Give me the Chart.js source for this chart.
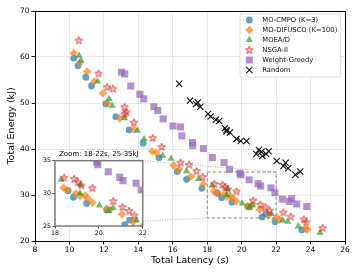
<!DOCTYPE html>
<html><head><meta charset="utf-8">
<script src="https://cdn.jsdelivr.net/npm/chart.js@4.4.1/dist/chart.umd.min.js"></script>
<style>
html,body{margin:0;padding:0;background:#fff;}
#wrap{position:relative;width:357px;height:275px;}
#main{position:absolute;left:0;top:0;}
#inset{position:absolute;left:40px;top:148px;}
</style></head><body>
<div id="wrap"><canvas id="main" width="357" height="275"></canvas><canvas id="inset" width="110" height="92"></canvas></div>
<script>
const FONT = 'DejaVu Sans';
const seriesNames = ['MO-CMPO (K=3)','MO-DIFUSCO (K=100)','MOEA/D','NSGA-II','Weight-Greedy','Random'];

const cmpoLatency = [10.25,10.5,10.95,11.28,12.11,12.69,13.47,14.28,15.2,16.26,16.8,17.69,18.6,18.84,19.44,20.36,21.18,21.4,21.94,23.49];
const cmpoEnergy  = [59.75,58.1,55.6,53.7,49.8,47.05,44.15,41.25,38.1,35.1,33.4,31.45,30.4,29.4,28.45,27.45,25.2,25.9,24.2,22.4];

const difuscoLatency = [10.25,10.6,11.02,11.43,11.94,12.19,12.92,13.74,14.8,15.05,16.05,16.37,17.05,17.77,18.38,18.55,18.96,19.15,19.37,19.5,19.7,20.36,20.51,21.05,21.57,22.03,22.2,23.7,23.81];
const difuscoEnergy  = [60.85,58.7,56.85,54.7,52.1,49.97,46.7,44.3,39.5,39.2,36.4,35.6,34.0,32.4,30.85,30.5,30.0,29.6,29.7,29.2,28.55,27.6,27.5,26.8,25.65,25.1,24.6,22.7,22.5];

const moeadLatency = [10.56,10.67,11.63,12.3,12.48,13.2,13.95,14.33,15.41,15.9,16.8,17.5,18.28,19.17,19.14,20.03,20.45,20.65,21.72,22.38,22.67,23.29,24.55];
const moeadEnergy  = [60.3,59.2,54.7,50.9,49.4,46.7,44.0,42.2,38.55,37.9,35.2,33.5,32.1,31.3,30.0,28.15,27.3,27.8,25.9,24.5,24.2,23.2,21.8];

const nsgaLatency = [10.54,11.69,12.19,12.53,13.2,13.31,13.2,13.74,14.83,15.35,16.45,16.95,17.38,17.73,18.42,18.88,19.04,19.2,19.7,20.66,21.08,21.38,21.62,22.42,22.85,23.6,23.75,24.7];
const nsgaEnergy  = [63.6,56.4,53.45,53.1,49.1,48.0,47.6,45.75,42.4,40.45,37.05,36.6,35.2,33.9,32.4,32.2,31.7,31.2,30.8,28.8,27.9,27.3,26.6,26.2,25.3,24.7,24.1,22.8];

const greedyLatency = [13.02,13.21,13.56,14.09,14.32,14.9,15.13,15.44,16.02,16.45,16.53,17.14,17.16,17.78,18.3,18.98,19.3,19.9,19.95,20.43,20.95,21.1,21.7,21.93,22.36,22.77,22.9,23.2,23.78];
const greedyEnergy  = [56.7,56.3,53.7,51.9,50.9,49.2,48.35,46.55,45.0,44.8,42.85,41.4,40.75,40.1,38.15,37.05,35.6,34.75,34.4,33.3,32.45,31.95,31.55,30.5,29.1,28.6,29.2,28.05,27.5];

const randomLatency = [16.37,17.0,17.35,17.45,17.6,18.05,18.2,18.5,18.7,19.03,19.12,19.12,19.32,19.7,19.95,20.28,20.85,21.0,21.15,21.2,21.42,21.57,22.04,22.42,22.55,22.7,23.12,23.4];
const randomEnergy  = [54.2,50.5,49.8,50.1,49.2,47.6,47.05,46.35,46.1,44.5,44.15,43.8,43.6,42.2,41.75,41.75,38.9,39.8,39.4,38.5,38.9,39.5,37.4,36.3,37.0,35.8,34.4,35.1];

const xRange = [8, 26];
const yRange = [20, 70];
const zoomX = [18, 22];
const zoomY = [25, 35];
const insetTitle = 'Zoom: 18-22s, 25-35kJ';

Chart.defaults.font.family = FONT;
Chart.defaults.color = '#000';

function makeStar(){
  const c = document.createElement('canvas');
  c.width = 10; c.height = 10;
  const g = c.getContext('2d');
  const cx = 5, cy = 5.2, R = 4.0, r = R * 0.42;
  g.beginPath();
  for (let i = 0; i < 10; i++) {
    const a = -Math.PI/2 + i*Math.PI/5;
    const rr = i % 2 ? r : R;
    g.lineTo(cx + rr*Math.cos(a), cy + rr*Math.sin(a));
  }
  g.closePath();
  g.fillStyle = 'rgba(214,39,40,0.3)';
  g.fill();
  g.lineWidth = 0.85;
  g.strokeStyle = 'rgba(214,39,40,0.85)';
  g.stroke();
  return c;
}
const starImg = makeStar();

const toPts = (xs, ys) => xs.map((x, i) => ({x: x, y: ys[i]}));

function makeDatasets(){
  return [
    {label: seriesNames[0], data: toPts(cmpoLatency, cmpoEnergy), pointStyle: 'circle', pointRadius: 3.4,
     backgroundColor: 'rgba(31,119,180,0.7)', borderColor: 'rgba(31,119,180,0.7)', borderWidth: 0, order: 6},
    {label: seriesNames[1], data: toPts(difuscoLatency, difuscoEnergy), pointStyle: 'rectRot', pointRadius: 4.2,
     backgroundColor: 'rgba(255,127,14,0.7)', borderColor: 'rgba(255,127,14,0.7)', borderWidth: 0, order: 5},
    {label: seriesNames[2], data: toPts(moeadLatency, moeadEnergy), pointStyle: 'triangle', pointRadius: 4.2,
     backgroundColor: 'rgba(44,160,44,0.7)', borderColor: 'rgba(44,160,44,0.7)', borderWidth: 0, order: 4},
    {label: seriesNames[3], data: toPts(nsgaLatency, nsgaEnergy), pointStyle: starImg, pointRadius: 4.0,
     backgroundColor: 'rgba(214,39,40,0.3)', borderColor: 'rgba(214,39,40,0.85)', borderWidth: 0, order: 3},
    {label: seriesNames[4], data: toPts(greedyLatency, greedyEnergy), pointStyle: 'rect', pointRadius: 5.0,
     backgroundColor: 'rgba(148,103,189,0.72)', borderColor: 'rgba(148,103,189,0.72)', borderWidth: 0, order: 2},
    {label: seriesNames[5], data: toPts(randomLatency, randomEnergy), pointStyle: 'crossRot', pointRadius: 4.4,
     backgroundColor: 'rgba(0,0,0,0)', borderColor: '#111', borderWidth: 1.1, order: 1}
  ];
}

// ---------- inset ----------
const insetCanvas = document.getElementById('inset');
const insetPlugin = {
  id: 'insetDecor',
  beforeDraw(chart){
    const {ctx, chartArea: a} = chart;
    ctx.save();
    ctx.fillStyle = '#fff';
    ctx.fillRect(a.left, a.top, a.right - a.left, a.bottom - a.top);
    ctx.restore();
  },
  afterDraw(chart){
    const {ctx, chartArea: a} = chart;
    ctx.save();
    ctx.strokeStyle = '#7a7a7a';
    ctx.lineWidth = 1.5;
    ctx.strokeRect(a.left, a.top, a.right - a.left, a.bottom - a.top);
    ctx.fillStyle = '#000';
    ctx.font = '7px "' + FONT + '"';
    ctx.textAlign = 'center';
    ctx.textBaseline = 'middle';
    ctx.fillText(insetTitle, (a.left + a.right)/2, a.top - 6.5);
    ctx.restore();
  }
};
const insetChart = new Chart(insetCanvas, {
  type: 'scatter',
  data: {datasets: makeDatasets()},
  options: {
    responsive: false, animation: false, devicePixelRatio: 1, events: [],
    layout: {padding: {top: 12.7, right: 7.3, left: 0, bottom: 0}},
    plugins: {legend: {display: false}, tooltip: {enabled: false}},
    scales: {
      x: {type: 'linear', min: zoomX[0], max: zoomX[1],
          ticks: {stepSize: 2, font: {size: 6.3}, color: '#000', padding: 1, maxRotation: 0},
          grid: {drawOnChartArea: false, tickLength: 2.5, tickColor: '#000', tickWidth: 0.8},
          border: {display: false},
          afterFit(s){ s.height = 14; }},
      y: {type: 'linear', min: zoomY[0], max: zoomY[1],
          ticks: {stepSize: 5, font: {size: 6.3}, color: '#000', padding: 1.5},
          grid: {drawOnChartArea: false, tickLength: 2.5, tickColor: '#000', tickWidth: 0.8},
          border: {display: false},
          afterFit(s){ s.width = 15; }}
    }
  },
  plugins: [insetPlugin]
});

// ---------- main ----------
const mainPlugin = {
  id: 'mainDecor',
  afterDatasetsDraw(chart){
    const {ctx, scales: {x: xs, y: ys}, chartArea: a} = chart;
    const rx1 = xs.getPixelForValue(zoomX[0]), rx2 = xs.getPixelForValue(zoomX[1]);
    const ry1 = ys.getPixelForValue(zoomY[1]), ry2 = ys.getPixelForValue(zoomY[0]);
    ctx.save();
    ctx.strokeStyle = '#8a8a8a';
    ctx.lineWidth = 1;
    ctx.setLineDash([3.5, 2]);
    ctx.strokeRect(rx1, ry1, rx2 - rx1, ry2 - ry1);
    const ia = insetChart.chartArea;
    const ox = insetCanvas.offsetLeft, oy = insetCanvas.offsetTop;
    ctx.strokeStyle = '#9a9a9a';
    ctx.lineWidth = 0.8;
    ctx.setLineDash([1, 1.5]);
    ctx.beginPath();
    ctx.moveTo(ox + ia.right, oy + ia.top); ctx.lineTo(rx2, ry1);
    ctx.moveTo(ox + ia.left, oy + ia.bottom); ctx.lineTo(rx1, ry2);
    ctx.stroke();
    ctx.setLineDash([]);
    const bw = 100.7, bh = 63;
    const bx = a.right - 4.3 - bw, by = a.top + 3;
    ctx.fillStyle = 'rgba(255,255,255,0.85)';
    ctx.strokeStyle = '#d5d5d5';
    ctx.lineWidth = 0.8;
    ctx.beginPath();
    if (ctx.roundRect) ctx.roundRect(bx, by, bw, bh, 2); else ctx.rect(bx, by, bw, bh);
    ctx.fill(); ctx.stroke();
    chart.data.datasets.forEach((ds, i) => {
      const mx = bx + 9.3, my = by + 6 + i * 10;
      ctx.fillStyle = ds.backgroundColor;
      ctx.strokeStyle = ds.borderColor;
      ctx.lineWidth = ds.borderWidth;
      Chart.helpers.drawPoint(ctx, {pointStyle: ds.pointStyle, radius: ds.pointRadius, rotation: 0, borderWidth: ds.borderWidth}, mx, my);
      ctx.fillStyle = '#111';
      ctx.font = '6.8px "' + FONT + '"';
      ctx.textAlign = 'left';
      ctx.textBaseline = 'middle';
      ctx.fillText(ds.label, bx + 22.3, my + 0.3);
    });
    ctx.restore();
  },
  afterDraw(chart){
    const {ctx, chartArea: a} = chart;
    ctx.save();
    ctx.strokeStyle = '#000';
    ctx.lineWidth = 1;
    ctx.strokeRect(Math.round(a.left) + 0.5, Math.round(a.top) + 0.5, Math.round(a.right - a.left), Math.round(a.bottom - a.top));
    ctx.restore();
  }
};

new Chart(document.getElementById('main'), {
  type: 'scatter',
  data: {datasets: makeDatasets()},
  options: {
    responsive: false, animation: false, devicePixelRatio: 1, events: [],
    layout: {padding: {top: 11, right: 12, left: 0, bottom: 0}},
    plugins: {legend: {display: false}, tooltip: {enabled: false}},
    scales: {
      x: {type: 'linear', min: xRange[0], max: xRange[1],
          ticks: {stepSize: 2, font: {size: 7.5}, color: '#000', padding: 1.5, maxRotation: 0, autoSkip: false},
          grid: {color: '#e6e6e6', lineWidth: 0.9, tickLength: 3.5, tickColor: '#000', tickWidth: 0.9},
          border: {color: '#000', width: 1},
          title: {display: true, text: 'Total Latency (s)', font: {size: 9.5}, color: '#000', padding: {top: 0, bottom: 8.6}},
          afterFit(s){ s.height = 34; }},
      y: {type: 'linear', min: yRange[0], max: yRange[1],
          ticks: {stepSize: 10, font: {size: 7.5}, color: '#000', padding: 2},
          grid: {color: '#e6e6e6', lineWidth: 0.9, tickLength: 3.5, tickColor: '#000', tickWidth: 0.9},
          border: {color: '#000', width: 1},
          title: {display: true, text: 'Total Energy (kJ)', font: {size: 9.5}, color: '#000', padding: {top: 6.3, bottom: 0}},
          afterFit(s){ s.width = 35; }}
    }
  },
  plugins: [mainPlugin]
});
</script>
</body></html>
